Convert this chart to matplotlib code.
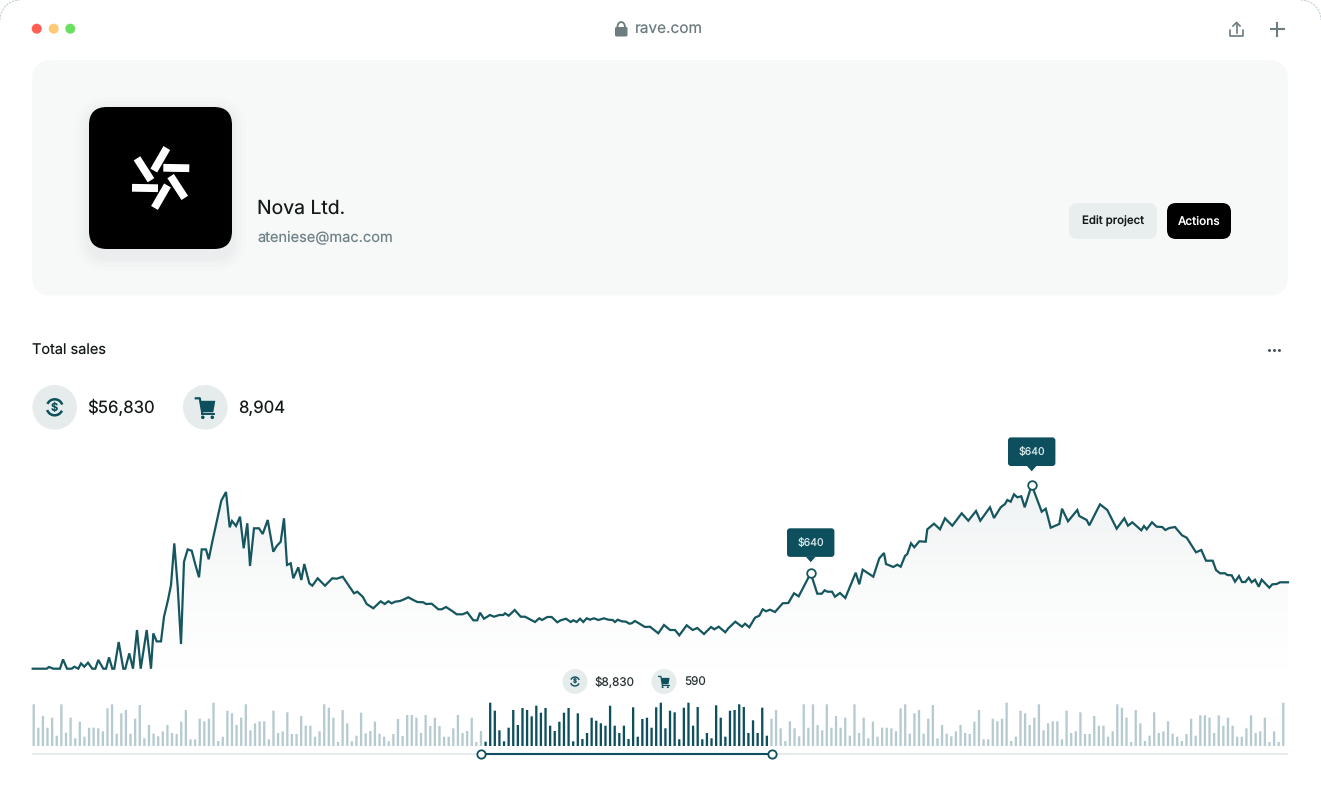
import numpy as np
import matplotlib
matplotlib.use('Agg')
import matplotlib.pyplot as plt
from matplotlib.patches import Arc, Circle, FancyBboxPatch, Polygon
from matplotlib.colors import LinearSegmentedColormap

plt.rcParams['font.family'] = ['Inter', 'DejaVu Sans']
plt.rcParams['text.hinting'] = 'no_hinting'

# total sales line
sales_x = [
    32.7, 42, 46.7, 49, 53.3, 60, 63, 67, 71.7, 74.3, 78.3, 81, 84.3, 88, 92.3, 95.3, 98.3, 103.3,
    106, 109, 112.3, 114.3, 118.7, 123.3, 125.3, 129.3, 133, 137, 140.7, 146.7, 151, 153.3, 156.7,
    161, 164, 168, 171, 174.3, 177.7, 181, 184, 187.7, 191.7, 195, 199, 201.7, 206, 208.7, 212.3,
    216.7, 221.3, 226, 229.7, 232, 236, 240, 243.7, 247.3, 250, 254, 259, 262.7, 267.7, 273.3,
    276.7, 280.7, 284, 287, 290.7, 293.3, 298.3, 301.3, 304.3, 309.3, 312.3, 317.7, 325, 332.3,
    336.7, 342.7, 350,
    354, 357.3, 362.7, 366.7, 373.3, 380.7, 384.7, 388.3, 391.7, 395, 400, 403.3, 408.3, 413.3,
    417.3, 423.3, 426, 431.7, 438.3, 441.7, 446, 451.7, 456.7, 462.7, 467.3, 473.3, 477.3, 480,
    484, 490, 494, 499.3, 503.3, 505, 508.7, 514.7, 520.7, 525, 535, 539.3, 542, 547.3, 551.7,
    557.3, 560.7, 566, 570.7, 573.3, 576.7, 580, 583.3, 586.7, 590, 594, 598.3, 604, 608.3, 612.7,
    615, 617.7, 621.7, 626, 629.3, 631.7, 635, 640, 645, 650, 658.3, 664, 670,
    675, 679.3, 686.7, 692.7, 697.3, 704, 711, 714.3, 718.7, 725.3, 728.3, 735.3, 742, 745, 749.3,
    755, 759.3, 762.7, 766, 770, 775, 782.7, 788.3, 794, 798.7, 810.7, 817.3, 821.7, 824.7, 827.3,
    832, 835, 840, 845.3, 855.7, 859.3, 862.7, 873.3, 879.3, 884, 886, 893.3, 897.3, 900.7, 905,
    907.3, 911, 914.3, 919.3, 925.7, 927.3, 934, 940, 945, 952.3, 961.7, 968.3, 976, 980.3, 990,
    994, 1000.7, 1005, 1007.3, 1010.7, 1014, 1017.3, 1021.3, 1024.7, 1031.7, 1041.7, 1045.7,
    1050.7, 1059.3, 1062, 1068, 1077.3, 1079.3, 1086.7, 1089.3, 1100, 1107.3, 1116.7, 1124.3, 1128,
    1132.3, 1141.3, 1144, 1146.7, 1152, 1156.7, 1162.3, 1165.3, 1169.3, 1175, 1182, 1186.7, 1196,
    1201.3, 1206, 1212.7, 1216, 1220, 1225, 1227.3, 1231.7, 1235, 1239, 1242, 1245.3, 1248.7,
    1251.7, 1255, 1258.7, 1261.7, 1269.3, 1272.3, 1276.7, 1280, 1288,
]
sales_y = [
    0, 0, 0, 1.7, 0, 0, 9.3, 0, 0, 2, 0, 5.3, 2, 6, 0, 0, 8.7, 0,
    0, 11.3, 0, 0, 26.7, 0, 0, 15.3, 0, 38.7, 0, 38.7, 0, 35.3, 27.3,
    27.3, 52, 68.7, 83.7, 125.3, 82, 24.7, 107, 119.3, 118, 105.4, 91.4, 119.3, 119.3, 109.4, 127,
    147, 168, 176.7, 141.4, 147.7, 142.7, 152, 120.4, 145.4, 102.7, 140.4, 140.4, 134.7, 148.7, 117,
    122.7, 127, 150.4, 103.7, 105.4, 90.4, 101.4, 88.7, 104.7, 85.4, 83, 90.4, 83, 90.4,
    90, 92, 81.4,
    75.4, 77, 72, 64.7, 60.4, 67.4, 64.7, 67.4, 65.4, 67, 67.7, 69, 71.4, 68.7,
    66.7, 66.4, 64.7, 65, 59.4, 59.4, 61.7, 58, 54.4, 54.4, 56.4, 48.4, 48.4, 56,
    50, 53.7, 52, 53.7, 53.7, 55.4, 53, 58.7, 52, 52, 46.7, 50.4, 48.7, 51.7, 51.7,
    46.4, 48.4, 50, 46.7, 48.4, 46.7, 50, 46.7, 50.4, 49, 50.4, 48.7, 50.4, 49, 48.7,
    46.7, 49, 47.4, 47, 45, 45.4, 47.7, 44.7, 41.7, 42, 35.4, 43.7, 38.7,
    38.7, 33.4, 43.4, 38.7, 40.7, 34.7, 41.7, 39.4, 42, 36.4, 40.4, 47, 42, 45, 41.4,
    51, 53, 59.4, 57.4, 59, 56.7, 65.4, 65.7, 75.4, 72.4, 95.5, 75, 75, 78.4, 77,
    77, 72, 75.7, 70.7, 96, 84.4, 99, 92, 110.4, 115.7, 104.7, 101.7, 104, 102, 112.7,
    114.7, 125.4, 121.4, 127.4, 127, 139.4, 145, 139.4, 150.4, 143, 155.4, 148, 157.7, 148, 161.4,
    150.7, 161.4, 164.7, 168.7, 167, 174.4, 171.4, 172.4, 161.4, 183.7, 157, 160,
    141, 144.7, 160, 147.4, 158.7, 152.7, 148.7, 143.4, 164.4, 158.7, 140, 150.4, 143,
    146.4, 138.4, 142.7, 139.4, 146.4, 142, 141.7, 138.7, 140.7, 141.7, 133.4, 131, 116.4,
    118.7, 108, 108, 98.7, 95.4, 95.4, 93.7, 93.4, 87, 92.7, 86.7, 86.7, 91,
    86.4, 89, 82, 89, 81, 84.4, 84.7, 86.4, 86.4,
]
peak_x = [810.7, 1031.7]
peak_labels = ['$640', '$640']

# brush bars: before, inside and after the selection
bars_before = [
    41.7, 18.3, 30, 18.3, 28.3, 10.3, 41.7, 13.3, 28.3, 7.7, 24.3, 9.3, 18.3, 18.3, 17.7, 14.7, 37.7,
    41.7, 12.3, 32.7, 36, 12.3, 27.3, 41, 7.7, 21, 12.3, 9.7, 14.7, 21, 13, 12, 24.3, 36, 6.7, 6.7,
    27.3, 24.7, 27.3, 43.3, 5, 9.3, 35.3, 32.7, 21, 28.3, 41.7, 15.7, 22.7, 24.7, 24.7, 6.7, 35.3, 13,
    14.7, 33.7, 12, 12, 30, 20.3, 20.3, 9.3, 14.7, 41.7, 38.3, 28.3, 4, 36, 22.7,
    4.7, 10.3, 33.3, 12.7, 15, 24.3, 12.3, 9.3, 4.7, 12, 27, 10, 31, 31, 28.3, 13, 31, 20, 28.3, 20,
    9.3, 9.3, 17.7, 31, 13, 15, 28.3, 4, 15,
]
bars_selected = [
    4.3, 43.3, 35.3, 15.7, 4.7, 18.3, 36, 21, 38, 36, 29.7, 40.3, 33.3, 38, 20.3, 15, 24.3, 33.3, 38,
    4.7, 32.7, 7, 13, 28.3, 25.3, 22.7, 20.3, 40.3, 20.3, 13, 20.3, 7, 38.7, 9.3, 27, 28.3, 18.3, 38.7,
    43.3, 17.7, 35.3,
    33.7, 6.7, 38.3, 43.3, 20.3, 39, 6.7, 13, 7.7, 40.7, 28.3, 9.3, 35.3, 36, 41.7, 39, 13, 25.7, 13,
    38.3, 10.3,
]
bars_after = [
    27.3, 36, 17.7, 5, 24.7, 17.7, 9.7, 41.7, 18.3, 41.7, 21, 15.7, 41.7, 18.3, 30, 18.3, 28.3, 10.3,
    41.7, 13, 28.3, 7.7, 24.3, 9.3, 18.3, 18.3, 17.7, 14.7, 37.7, 41.7, 12.3, 32.7, 36, 12.3, 27.3, 41,
    7.7, 21, 12.3, 9.7, 14.7, 21, 13, 12, 24.3, 36, 6.7, 6.7,
    27.3, 24.7, 27.3, 43.3, 5, 9.3, 35.3, 32.7, 21, 28.3, 41.7, 15.7, 22.7, 24.7, 24.7, 6.7, 35.3, 13,
    14.7, 33.7, 12, 12, 30, 20.3, 20.3, 9.3, 14.7, 41.7, 38.3, 28.3, 4, 36, 22.7, 5, 10.3, 33.7, 13,
    14.7, 24.7, 12.3, 9.3, 5, 12, 27.3, 10.3, 30.7, 30.7, 28.3, 13, 30.7, 20.3, 28.3, 20.3, 9.3, 9.3,
    17.7, 30.7, 13, 14.7, 28.3, 4, 14.7, 4, 43.3,
]

DARK = '#0d4f5c'
LINE = '#15565f'
LIGHT_BAR = '#b6cbd0'
GREY = '#6d7c7f'
INK = '#14191a'

W, H = 1321, 790
fig = plt.figure(figsize=(W / 100, H / 100), dpi=100, facecolor='white')


def px_axes(x0, y0, x1, y1, z):
    """axes placed by picture pixels (y measured from the top)"""
    ax = fig.add_axes([x0 / W, 1 - y1 / H, (x1 - x0) / W, (y1 - y0) / H], zorder=z)
    ax.patch.set_alpha(0)
    ax.axis('off')
    return ax


def pt(px):
    return px * 0.72


ui = px_axes(0, 0, W, H, 1)
ui.set_xlim(0, W)
ui.set_ylim(H, 0)
top = px_axes(0, 0, W, H, 5)
top.set_xlim(0, W)
top.set_ylim(H, 0)


def rrect(ax, x0, y0, x1, y1, r, **kw):
    p = FancyBboxPatch((x0 + r, y0 + r), x1 - x0 - 2 * r, y1 - y0 - 2 * r,
                       boxstyle=f'round,pad={r},rounding_size={r}', linewidth=0, **kw)
    ax.add_patch(p)
    return p


# window chrome
ui.add_patch(Arc((20, 20), 40, 40, theta1=180, theta2=270, color='#c3d0d4', lw=0.8, ls=(0, (2, 1))))
ui.add_patch(Arc((1301, 20), 40, 40, theta1=270, theta2=360, color='#c3d0d4', lw=0.8, ls=(0, (2, 1))))
for cx, c in zip([36.7, 53.7, 70.3], ['#ff5f52', '#fdcb75', '#6ae05f']):
    ui.add_patch(Circle((cx, 28.7), 5, fc=c, ec='none'))

# lock + address
rrect(ui, 615, 27, 627.5, 36.5, 1.5, fc=GREY)
ui.add_patch(Arc((621.2, 27), 7.5, 10, theta1=180, theta2=360, color=GREY, lw=1.3))
ui.text(635, 30, 'rave.com', fontsize=pt(15.4), color=GREY, va='center', ha='left')

# share + plus
ui.plot([1230, 1230, 1243, 1243], [30, 36, 36, 30], color=GREY, lw=1.2, solid_capstyle='round')
ui.plot([1236.5, 1236.5], [33, 23], color=GREY, lw=1.2)
ui.plot([1233, 1236.5, 1240], [26, 22.5, 26], color=GREY, lw=1.2)
ui.plot([1270.5, 1284], [29, 29], color=GREY, lw=1.5)
ui.plot([1277.2, 1277.2], [22.5, 35.5], color=GREY, lw=1.5)

# profile card
rrect(ui, 32, 60, 1288, 295.5, 20, fc='#f7f8f8')
for grow, a in zip([14, 10, 6, 3], [0.006, 0.01, 0.014, 0.018]):
    rrect(ui, 89 - grow, 111 - grow, 232 + grow, 257 + grow, 18 + grow, fc='#35525a', alpha=a)
rrect(ui, 89, 107, 232, 249, 18, fc='black')
for cx, cy, ang in [(144, 169.3, 57.4), (160.3, 159.3, -60), (176.3, 168, 1),
                    (177.7, 187, 57), (161, 196.7, -60), (145, 188, 1)]:
    t = np.deg2rad(ang)
    ux, uy = np.cos(t) * 13, np.sin(t) * 13
    vx, vy = -np.sin(t) * 3.9, np.cos(t) * 3.9
    ui.add_patch(Polygon([(cx - ux - vx, cy - uy - vy), (cx + ux - vx, cy + uy - vy),
                          (cx + ux + vx, cy + uy + vy), (cx - ux + vx, cy - uy + vy)],
                         fc='white', ec='none'))
ui.text(257, 208.5, 'Nova Ltd.', fontsize=pt(19.4), color=INK, va='center', ha='left')
ui.text(257, 238.5, 'ateniese@mac.com', fontsize=pt(14.6), color='#6f8286', va='center', ha='left')
rrect(ui, 1069, 203, 1157, 239, 9, fc='#e8eded')
rrect(ui, 1167, 203, 1231, 239, 9, fc='black')
ui.text(1113, 221.5, 'Edit project', fontsize=pt(11.4), color=INK, va='center', ha='center', weight='medium')
ui.text(1199, 221.5, 'Actions', fontsize=pt(11.8), color='white', va='center', ha='center', weight='medium')

# section header
ui.text(32, 351, 'Total sales', fontsize=pt(14.5), color=INK, va='center', ha='left')
ui.plot([1269, 1274, 1279], [349.5] * 3, ls='none', marker='o', ms=1.1, color='#3d5056')


def money_icon(ax, cx, cy, s):
    ax.add_patch(Circle((cx, cy), 22.3 * s, fc='#e6ecec', ec='none'))
    ax.add_patch(Arc((cx, cy), 16 * s, 16 * s, theta1=205, theta2=340, color=DARK, lw=1.8 * s))
    ax.add_patch(Arc((cx, cy), 16 * s, 16 * s, theta1=25, theta2=160, color=DARK, lw=1.8 * s))
    ax.text(cx, cy + 0.4 * s, '$', fontsize=pt(11 * s), color=DARK, va='center', ha='center', weight='bold')


def cart_icon(ax, cx, cy, s):
    ax.add_patch(Circle((cx, cy), 22.3 * s, fc='#e6ecec', ec='none'))
    ax.plot([cx - 9.5 * s, cx - 5.5 * s, cx - 3 * s], [cy - 9 * s, cy - 9 * s, cy + 6 * s], color=DARK, lw=1.6 * s)
    ax.add_patch(Polygon([(cx - 5 * s, cy - 6.5 * s), (cx + 10 * s, cy - 6.5 * s), (cx + 8 * s, cy + 5 * s),
                          (cx - 3 * s, cy + 5 * s)], fc=DARK, ec='none'))
    ax.plot([cx - 3 * s, cx + 8.5 * s], [cy + 6.5 * s, cy + 6.5 * s], color=DARK, lw=1.4 * s)
    for dx in (-2.5, 7):
        ax.add_patch(Circle((cx + dx * s, cy + 10 * s), 1.8 * s, fc=DARK, ec='none'))


money_icon(ui, 54.7, 407.3, 1)
cart_icon(ui, 205.3, 407.3, 1)
ui.text(87.5, 408.3, '$56,830', fontsize=pt(16.8), color=INK, va='center', ha='left')
ui.text(238, 408.3, '8,904', fontsize=pt(16.8), color=INK, va='center', ha='left')
money_icon(ui, 575, 681.5, 0.56)
cart_icon(ui, 664, 681.5, 0.56)
ui.text(594.5, 682.3, '$8,830', fontsize=pt(11.7), color='#2a3436', va='center', ha='left')
ui.text(684, 682.3, '590', fontsize=pt(11.7), color='#2a3436', va='center', ha='left')

# sales line with gradient fill
ax = px_axes(32, 478.7, 1288, 668.7, 2)
ax.set_xlim(32, 1288)
ax.set_ylim(0, 190)
cmap = LinearSegmentedColormap.from_list('fade', ['#ffffff', '#f9fafa', '#eef2f3'])
im = ax.imshow(np.linspace(1, 0, 256).reshape(-1, 1), extent=(32, 1288, 0, 190), aspect='auto', cmap=cmap,
               vmin=0, vmax=1, zorder=1)
area = ax.fill_between(sales_x, sales_y, 0, color='none', lw=0)
im.set_clip_path(area.get_paths()[0], transform=ax.transData)
ax.set_xlim(32, 1288)
ax.set_ylim(0, 190)
ax.plot(sales_x, sales_y, color=LINE, lw=1.6, solid_joinstyle='miter', zorder=3, clip_on=False)
peak_y = [sales_y[sales_x.index(v)] for v in peak_x]
ax.plot(peak_x, peak_y, ls='none', marker='o', ms=6.2, mfc='white', mec=LINE, mew=1.3, zorder=4, clip_on=False)

# tooltips sit above the peaks
for px_, py_, lab, gap in zip(peak_x, peak_y, peak_labels, [16.3, 19]):
    by = 668.7 - py_
    rrect(top, px_ - 23.7, by - gap - 28.6, px_ + 23.7, by - gap, 3, fc=DARK)
    top.add_patch(Polygon([(px_ - 5, by - gap - 0.3), (px_ + 5, by - gap - 0.3), (px_, by - gap + 5.3)], fc=DARK, ec='none'))
    top.text(px_, by - gap - 13.8, lab, fontsize=pt(10.5), color='#d6e6e9', va='center', ha='center')

# brush bars
bars = bars_before + bars_selected + bars_after
n = len(bars)
step = (1283.3 - 33.7) / (n - 1)
bx = px_axes(32, 696, 1288, 746, 2)
bx.set_xlim((32 - 33.7) / step, (1288 - 33.7) / step)
bx.set_ylim(0, 50)
colors = [LIGHT_BAR] * len(bars_before) + [DARK] * len(bars_selected) + [LIGHT_BAR] * len(bars_after)
bar_rects = bx.bar(np.arange(n), bars, width=2.3 / step, color=colors, linewidth=0)
for r in bar_rects:
    r.set_snap(False)

# brush track
ui.plot([32, 1288], [754.3, 754.3], color='#dfe7e7', lw=1.1, solid_capstyle='butt')
ui.plot([480.7, 772.3], [754.3, 754.3], color=DARK, lw=1.5, solid_capstyle='butt')
ui.plot([480.7, 772.3], [754.3, 754.3], ls='none', marker='o', ms=6, mfc='white', mec=DARK, mew=1.3)

fig.savefig('out.png', dpi=100, facecolor='white')
